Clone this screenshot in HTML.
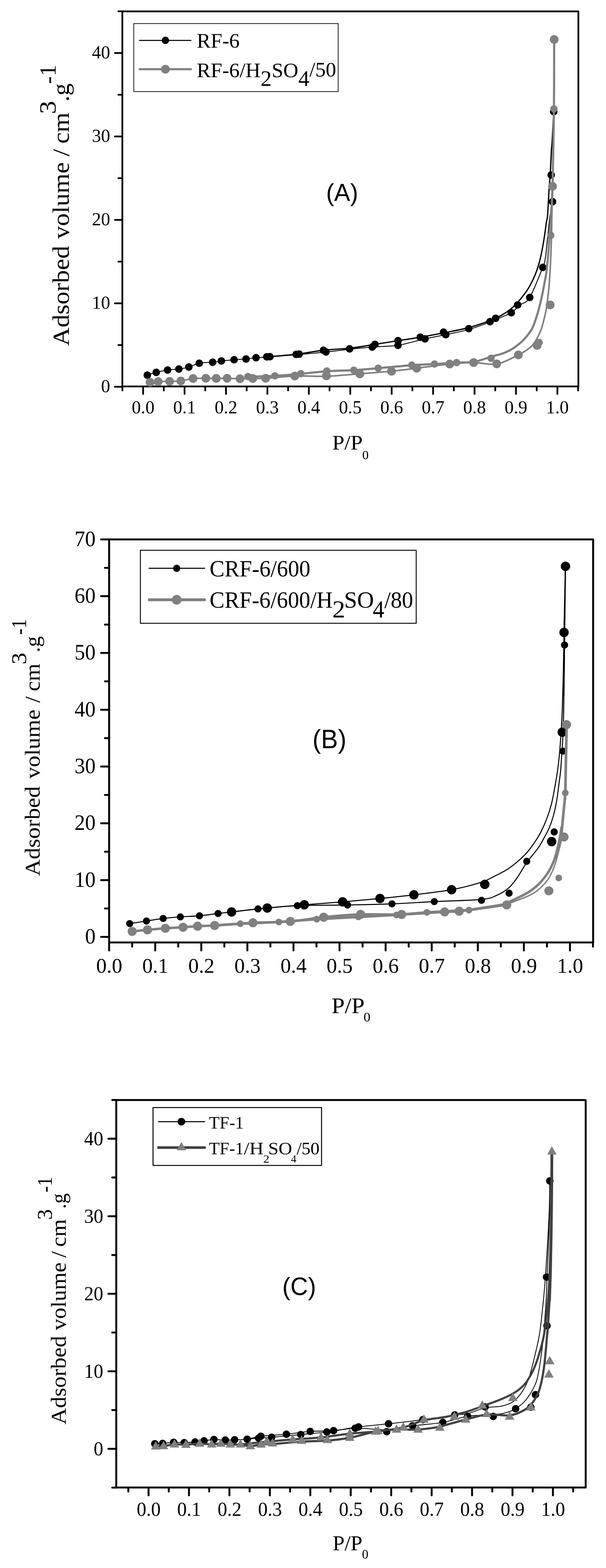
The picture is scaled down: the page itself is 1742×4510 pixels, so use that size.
<!DOCTYPE html>
<html lang="en"><head><meta charset="utf-8"><title>Adsorption isotherms</title>
<style>
html,body{margin:0;padding:0;background:#fff;}
body{width:1742px;height:4510px;overflow:hidden;}
svg{display:block;}
text{fill:#000;}
</style></head><body>
<svg width="1742" height="4510" viewBox="0 0 1742 4510">
<rect width="1742" height="4510" fill="#fff"/>
<g id="chartA">
<g stroke="#000" stroke-width="5" stroke-linecap="round" fill="none">
<path d="M411.4,1111.6 V1132.9"/>
<path d="M530.5,1111.6 V1132.9"/>
<path d="M649.6,1111.6 V1132.9"/>
<path d="M768.7,1111.6 V1132.9"/>
<path d="M887.8,1111.6 V1132.9"/>
<path d="M1006.9,1111.6 V1132.9"/>
<path d="M1125.9,1111.6 V1132.9"/>
<path d="M1245,1111.6 V1132.9"/>
<path d="M1364.1,1111.6 V1132.9"/>
<path d="M1483.2,1111.6 V1132.9"/>
<path d="M1602.3,1111.6 V1132.9"/>
<path d="M351.9,1111.6 V1122.9"/>
<path d="M470.9,1111.6 V1122.9"/>
<path d="M590,1111.6 V1122.9"/>
<path d="M709.1,1111.6 V1122.9"/>
<path d="M828.2,1111.6 V1122.9"/>
<path d="M947.3,1111.6 V1122.9"/>
<path d="M1066.4,1111.6 V1122.9"/>
<path d="M1185.5,1111.6 V1122.9"/>
<path d="M1304.6,1111.6 V1122.9"/>
<path d="M1423.7,1111.6 V1122.9"/>
<path d="M1542.8,1111.6 V1122.9"/>
<path d="M1661.8,1111.6 V1122.9"/>
<path d="M351.7,1112.4 H330.4"/>
<path d="M351.7,872.4 H330.4"/>
<path d="M351.7,632.4 H330.4"/>
<path d="M351.7,392.4 H330.4"/>
<path d="M351.7,152.4 H330.4"/>
<path d="M351.7,992.4 H340.4"/>
<path d="M351.7,752.4 H340.4"/>
<path d="M351.7,512.4 H340.4"/>
<path d="M351.7,272.4 H340.4"/>
<path d="M351.7,32.4 H340.4"/>
</g>
<rect x="351.7" y="32.7" width="1310.9" height="1078.9" fill="none" stroke="#000" stroke-width="5" stroke-linejoin="round"/>
<path d="M423.5,1079 C427.8,1077.7 439.5,1073.5 449.2,1071 C458.9,1068.5 470.9,1065.9 481.7,1064.3 C492.5,1062.7 504,1062.9 514.2,1061.4 C524.4,1060 533,1058.4 542.8,1055.6 C552.5,1052.8 561.3,1047 572.7,1044.7 C584.1,1042.4 600.7,1042.9 611.3,1041.8 C621.9,1040.7 626.1,1039.4 636.4,1038.2 C646.6,1037 661,1035.7 672.8,1034.7 C684.6,1033.8 696.7,1033.5 707.2,1032.5 C717.7,1031.5 724.5,1030 736,1029 C747.5,1028 755.2,1027.9 775.9,1026.3 C796.5,1024.7 833,1021.8 859.9,1019.5 C886.8,1017.2 912.8,1014.9 937,1012.4 C961.2,1009.9 982.8,1006.9 1005,1004.5 C1027.2,1002.1 1046.9,1000.1 1070.1,998.2 C1093.3,996.3 1118.8,997 1144.1,993.1 C1169.3,989.2 1198.7,979.8 1221.6,974.7 C1244.5,969.6 1260.4,967 1281.4,962.5 C1302.4,958 1326.3,953.6 1347.5,947.6 C1368.7,941.6 1393,932.2 1408.6,926.3 C1424.1,920.4 1430.6,916.8 1440.8,912.3 C1451,907.8 1460.3,905.4 1469.7,899.4 C1479.1,893.4 1488.2,883.3 1497,876 C1505.8,868.7 1512.3,873.4 1522.8,855.6 C1533.3,837.8 1552.8,787.4 1560.2,769.1 C1567.6,750.8 1565,756.9 1567,746 C1569,735.1 1570.5,717.5 1572,704 C1573.5,690.5 1574.5,679 1576,665 C1577.5,651 1579,634.1 1581,620 C1583,605.9 1586.8,608.4 1588.3,580.1 C1589.8,551.8 1589.4,493.2 1590,450 C1590.6,406.8 1591.4,342.5 1591.7,321" fill="none" stroke="#000" stroke-width="2.5" stroke-linejoin="round" stroke-linecap="round"/>
<path d="M766.9,1026.3 C781,1025.1 824,1022.4 851.2,1019.2 C878.4,1016 904.4,1010.2 930,1007.3 C955.6,1004.3 980.4,1004.3 1005,1001.5 C1029.6,998.7 1054.6,994.1 1077.8,990.5 C1101,986.9 1122.4,983.3 1144.1,979.9 C1165.8,976.5 1185.4,973.8 1208.1,969.9 C1230.8,966 1256.8,961.1 1280,956.5 C1303.2,951.9 1326.1,948.1 1347.5,942.4 C1368.9,936.7 1393,928.1 1408.6,922.3 C1424.1,916.5 1430.7,913.1 1440.8,907.4 C1450.9,901.7 1460.3,895.3 1469,888.1 C1477.7,880.9 1484.8,873.7 1493,864 C1501.2,854.3 1510.7,842.6 1518.4,830 C1526.1,817.4 1533.6,802.1 1539.3,788.1 C1545,774.1 1548.5,762 1552.4,746.3 C1556.3,730.6 1559.8,711.9 1562.8,694 C1565.8,676.1 1568.8,651.5 1570.7,639.2 C1572.6,626.9 1572.7,635.8 1574,620 C1575.3,604.2 1577.1,564.3 1578.4,544.3 C1579.7,524.3 1580.6,518.4 1581.7,500 C1582.8,481.6 1584.1,449.3 1585,433.8 C1585.9,418.3 1586.1,425.8 1587.2,407 C1588.3,388.2 1591,335.3 1591.7,321" fill="none" stroke="#000" stroke-width="3.7" stroke-linejoin="round" stroke-linecap="round"/>
<g fill="#000">
<circle cx="423.5" cy="1079" r="10.8"/>
<circle cx="449.2" cy="1071" r="10.8"/>
<circle cx="481.7" cy="1064.3" r="10.8"/>
<circle cx="514.2" cy="1061.4" r="10.8"/>
<circle cx="542.8" cy="1055.6" r="10.8"/>
<circle cx="572.7" cy="1044.7" r="10.8"/>
<circle cx="611.3" cy="1041.8" r="10.8"/>
<circle cx="636.4" cy="1038.2" r="10.8"/>
<circle cx="672.8" cy="1034.7" r="10.8"/>
<circle cx="707.2" cy="1032.5" r="10.8"/>
<circle cx="736" cy="1028.8" r="10.8"/>
<circle cx="766.9" cy="1026.3" r="10.8"/>
<circle cx="775.9" cy="1025.9" r="10.8"/>
<circle cx="851.2" cy="1019.2" r="10.8"/>
<circle cx="859.9" cy="1018.5" r="10.8"/>
<circle cx="930" cy="1007.3" r="10.8"/>
<circle cx="937" cy="1012.4" r="10.8"/>
<circle cx="1005" cy="1003.4" r="10.8"/>
<circle cx="1070.1" cy="998.2" r="10.8"/>
<circle cx="1077.8" cy="990.5" r="10.8"/>
<circle cx="1144.1" cy="979.9" r="10.8"/>
<circle cx="1144.1" cy="993.1" r="10.8"/>
<circle cx="1208.1" cy="969.9" r="10.8"/>
<circle cx="1221.6" cy="974.7" r="10.8"/>
<circle cx="1275" cy="955.4" r="10.8"/>
<circle cx="1281.4" cy="962.5" r="10.8"/>
<circle cx="1347.5" cy="945.2" r="10.8"/>
<circle cx="1408.6" cy="925.1" r="10.8"/>
<circle cx="1424.7" cy="915.5" r="10.8"/>
<circle cx="1469.7" cy="899.4" r="10.8"/>
<circle cx="1488" cy="877" r="10.8"/>
<circle cx="1522.8" cy="855.6" r="10.8"/>
<circle cx="1560.2" cy="769.1" r="10.8"/>
<circle cx="1588.3" cy="580.1" r="10.8"/>
<circle cx="1584.4" cy="503.4" r="10.8"/>
<circle cx="1591.7" cy="321" r="10.8"/>
</g>
<path d="M431.5,1099.7 C435.4,1099.4 445.4,1098.2 454.7,1097.7 C464,1097.2 476.7,1097.1 487.5,1096.8 C498.3,1096.5 508.5,1097.1 519.7,1095.8 C531,1094.5 543,1090 555,1088.7 C567,1087.4 580.6,1088.1 591.7,1088.1 C602.8,1088 611.4,1088.4 621.6,1088.4 C631.8,1088.4 641.4,1087.9 652.8,1088.1 C664.2,1088.3 677.5,1089.3 689.8,1089.4 C702.1,1089.5 714.4,1088.9 726.7,1088.7 C739,1088.5 743.6,1089.2 763.7,1088 C783.8,1086.8 818.2,1082.6 847.3,1081.6 C876.4,1080.6 907.1,1083.3 938.3,1082.2 C969.5,1081.1 1003.2,1077.5 1034.4,1075.1 C1065.6,1072.7 1097.9,1070.4 1125.4,1067.7 C1152.9,1065 1171.5,1062.4 1199.4,1059 C1227.3,1055.6 1265.7,1049.8 1292.7,1047.1 C1319.7,1044.4 1339.1,1042.9 1361.6,1042.9 C1384.1,1042.9 1406.5,1050.6 1427.9,1046.9 C1449.3,1043.2 1473.9,1028.6 1489.8,1020.8 C1505.7,1013 1514.7,1007.2 1523.3,1000 C1531.9,992.8 1536,986.3 1541.4,977.4 C1546.8,968.5 1552,957.1 1555.9,946.6 C1559.8,936.1 1562.3,924.7 1564.9,914.1 C1567.5,903.5 1569.5,894.5 1571.3,883.3 C1573.1,872.1 1574.6,857.6 1575.8,847.1 C1577,836.6 1577.4,835 1578.5,820 C1579.6,805 1581.3,778.2 1582.4,756.8 C1583.5,735.4 1584.3,713.3 1585,691.5 C1585.7,669.7 1585.8,651.9 1586.3,626 C1586.8,600.1 1588,550.9 1588.3,535.9" fill="none" stroke="#808080" stroke-width="4.6" stroke-linejoin="round" stroke-linecap="round"/>
<path d="M712.6,1083.6 C725.6,1083.2 765,1082.4 790.4,1081 C815.8,1079.6 839.8,1077.3 864.7,1075.1 C889.6,1072.9 914,1069.6 939.6,1067.8 C965.2,1066 993.8,1066 1018.4,1064.5 C1043,1063 1059.9,1061.4 1087.5,1059 C1115.1,1056.6 1157.1,1052.3 1184,1050.3 C1210.9,1048.3 1227.6,1048.3 1249,1047.1 C1270.4,1045.9 1293.8,1043.9 1312.6,1042.9 C1331.4,1041.9 1345,1043.8 1361.6,1041 C1378.1,1038.2 1398.8,1029.8 1411.9,1026 C1425,1022.2 1432.1,1020.9 1440.2,1018.3 C1448.3,1015.7 1454,1013.3 1460.3,1010.3 C1466.6,1007.2 1470.6,1005.5 1478.1,1000 C1485.6,994.5 1496.8,986.3 1505.2,977.4 C1513.6,968.5 1522.7,957.1 1528.7,946.6 C1534.7,936.1 1537.8,924.7 1541.4,914.1 C1545,903.5 1547.7,893.5 1550.4,883.3 C1553.1,873 1555.4,863.1 1557.7,852.6 C1560,842.1 1561.8,831.6 1564,820 C1566.2,808.4 1568.7,797.9 1570.7,783 C1572.7,768.1 1574.4,748.1 1575.9,730.7 C1577.4,713.3 1578.5,696.9 1579.8,678.4 C1581.1,659.9 1582.5,643.8 1583.9,620 C1585.3,596.2 1586.9,587 1588.3,535.9 C1589.7,484.8 1591.5,383.7 1592.3,313.3 C1593.1,242.9 1592.9,146.9 1593,113.6" fill="none" stroke="#808080" stroke-width="6.2" stroke-linejoin="round" stroke-linecap="round"/>
<g fill="#808080">
<circle cx="712.6" cy="1083" r="10.6"/>
<circle cx="790.2" cy="1081" r="10.6"/>
<circle cx="864.5" cy="1074.8" r="10.6"/>
<circle cx="939.4" cy="1067" r="10.6"/>
<circle cx="1017" cy="1064.8" r="10.6"/>
<circle cx="1087.2" cy="1059" r="10.6"/>
<circle cx="1183.7" cy="1050.2" r="10.6"/>
<circle cx="1249" cy="1047.1" r="10.6"/>
<circle cx="1312.6" cy="1042.9" r="10.6"/>
<circle cx="1411.5" cy="1030.6" r="10.6"/>
<circle cx="1550" cy="985.2" r="10.6"/>
<circle cx="1583.2" cy="677.1" r="10.6"/>
<circle cx="1592.3" cy="313.3" r="10.6"/>
</g>
<g fill="#808080">
<circle cx="431.5" cy="1099.7" r="12.6"/>
<circle cx="454.7" cy="1097.7" r="12.6"/>
<circle cx="487.5" cy="1096.8" r="12.6"/>
<circle cx="519.7" cy="1095.8" r="12.6"/>
<circle cx="555" cy="1088.7" r="12.6"/>
<circle cx="591.7" cy="1088.1" r="12.6"/>
<circle cx="621.6" cy="1088.4" r="12.6"/>
<circle cx="652.8" cy="1088.1" r="12.6"/>
<circle cx="689.8" cy="1089.4" r="12.6"/>
<circle cx="726.7" cy="1088.7" r="12.6"/>
<circle cx="763.7" cy="1088" r="12.6"/>
<circle cx="847.3" cy="1081.6" r="12.6"/>
<circle cx="938.3" cy="1081" r="12.6"/>
<circle cx="1034.4" cy="1075.4" r="12.6"/>
<circle cx="1125.4" cy="1067.9" r="12.6"/>
<circle cx="1198" cy="1059" r="12.6"/>
<circle cx="1292.7" cy="1047.1" r="12.6"/>
<circle cx="1361.6" cy="1042.9" r="12.6"/>
<circle cx="1427.9" cy="1046.6" r="12.6"/>
<circle cx="1490.2" cy="1020.8" r="12.6"/>
<circle cx="1543.9" cy="993.5" r="12.6"/>
<circle cx="1581.5" cy="877" r="12.6"/>
<circle cx="1588.3" cy="535.9" r="12.6"/>
<circle cx="1593" cy="113.6" r="12.6"/>
</g>
<text x="411.4" y="1188.6" font-family='"Liberation Serif", serif' font-size="52.3" text-anchor="middle" >0.0</text>
<text x="530.5" y="1188.6" font-family='"Liberation Serif", serif' font-size="52.3" text-anchor="middle" >0.1</text>
<text x="649.6" y="1188.6" font-family='"Liberation Serif", serif' font-size="52.3" text-anchor="middle" >0.2</text>
<text x="768.7" y="1188.6" font-family='"Liberation Serif", serif' font-size="52.3" text-anchor="middle" >0.3</text>
<text x="887.8" y="1188.6" font-family='"Liberation Serif", serif' font-size="52.3" text-anchor="middle" >0.4</text>
<text x="1006.9" y="1188.6" font-family='"Liberation Serif", serif' font-size="52.3" text-anchor="middle" >0.5</text>
<text x="1125.9" y="1188.6" font-family='"Liberation Serif", serif' font-size="52.3" text-anchor="middle" >0.6</text>
<text x="1245" y="1188.6" font-family='"Liberation Serif", serif' font-size="52.3" text-anchor="middle" >0.7</text>
<text x="1364.1" y="1188.6" font-family='"Liberation Serif", serif' font-size="52.3" text-anchor="middle" >0.8</text>
<text x="1483.2" y="1188.6" font-family='"Liberation Serif", serif' font-size="52.3" text-anchor="middle" >0.9</text>
<text x="1602.3" y="1188.6" font-family='"Liberation Serif", serif' font-size="52.3" text-anchor="middle" >1.0</text>
<text x="290.41" y="1128.3" font-family='"Liberation Serif", serif' font-size="52.3" textLength="26.15" lengthAdjust="spacingAndGlyphs">0</text>
<text x="264.26" y="888.3" font-family='"Liberation Serif", serif' font-size="52.3" textLength="52.30" lengthAdjust="spacingAndGlyphs">10</text>
<text x="264.26" y="648.3" font-family='"Liberation Serif", serif' font-size="52.3" textLength="52.30" lengthAdjust="spacingAndGlyphs">20</text>
<text x="264.26" y="408.3" font-family='"Liberation Serif", serif' font-size="52.3" textLength="52.30" lengthAdjust="spacingAndGlyphs">30</text>
<text x="264.26" y="168.3" font-family='"Liberation Serif", serif' font-size="52.3" textLength="52.30" lengthAdjust="spacingAndGlyphs">40</text>
<text font-family='"Liberation Serif", serif'><tspan x="955.11" y="1292.7" font-size="58.3" textLength="87.52" lengthAdjust="spacingAndGlyphs">P/P</tspan><tspan x="1041.21" y="1320.8" font-size="36" textLength="18.47" lengthAdjust="spacingAndGlyphs">0</tspan></text>
<text font-family='"Liberation Serif", serif' transform="translate(198,994.5) rotate(-90)"><tspan x="-0.74" y="0" font-size="68" textLength="288.22" lengthAdjust="spacingAndGlyphs">Adsorbed</tspan> <tspan x="307.50" y="0" font-size="68" textLength="220.54" lengthAdjust="spacingAndGlyphs">volume</tspan> <tspan x="544.80" y="0" font-size="68" textLength="21.13" lengthAdjust="spacingAndGlyphs">/</tspan> <tspan x="581.25" y="0" font-size="68" textLength="89.70" lengthAdjust="spacingAndGlyphs">cm</tspan><tspan x="666.26" y="-37.8" font-size="68" textLength="38.30" lengthAdjust="spacingAndGlyphs">3</tspan><tspan x="701.91" y="0" font-size="68" textLength="53.01" lengthAdjust="spacingAndGlyphs">.g</tspan><tspan x="753.34" y="-37.8" font-size="68" textLength="54.63" lengthAdjust="spacingAndGlyphs">-1</tspan></text>
<text x="937.48" y="578" font-family='"Liberation Sans", sans-serif' font-size="70" textLength="92.07" lengthAdjust="spacingAndGlyphs" >(A)</text>
<rect x="384.5" y="67.8" width="587.6" height="195.6" fill="#fff" stroke="#000" stroke-width="2"/>
<path d="M401,116.2 L549,116.2" fill="none" stroke="#000" stroke-width="3" stroke-linejoin="round" stroke-linecap="round"/>
<g fill="#000">
<circle cx="475.5" cy="116.2" r="10.6"/>
</g>
<path d="M401.5,199 L549,199" fill="none" stroke="#808080" stroke-width="6" stroke-linejoin="round" stroke-linecap="round"/>
<g fill="#808080">
<circle cx="475.5" cy="199" r="12.6"/>
</g>
<text x="565.5" y="137.4" font-family='"Liberation Serif", serif' font-size="60" text-anchor="start" >RF-6</text>
<text x="565.5" y="222.3" font-family='"Liberation Serif", serif' font-size="60">RF-6/H<tspan dy="24.5" font-size="64">2</tspan><tspan dy="-24.5">SO</tspan><tspan dy="24.5" font-size="64">4</tspan><tspan dy="-26.5">/50</tspan></text>
</g>
<g id="chartB">
<g stroke="#000" stroke-width="5.5" stroke-linecap="round" fill="none">
<path d="M313.7,2710.7 V2733.7"/>
<path d="M446.2,2710.7 V2733.7"/>
<path d="M578.6,2710.7 V2733.7"/>
<path d="M711.1,2710.7 V2733.7"/>
<path d="M843.6,2710.7 V2733.7"/>
<path d="M976,2710.7 V2733.7"/>
<path d="M1108.5,2710.7 V2733.7"/>
<path d="M1241,2710.7 V2733.7"/>
<path d="M1373.5,2710.7 V2733.7"/>
<path d="M1505.9,2710.7 V2733.7"/>
<path d="M1638.4,2710.7 V2733.7"/>
<path d="M379.9,2710.7 V2722.7"/>
<path d="M512.4,2710.7 V2722.7"/>
<path d="M644.9,2710.7 V2722.7"/>
<path d="M777.3,2710.7 V2722.7"/>
<path d="M909.8,2710.7 V2722.7"/>
<path d="M1042.3,2710.7 V2722.7"/>
<path d="M1174.8,2710.7 V2722.7"/>
<path d="M1307.2,2710.7 V2722.7"/>
<path d="M1439.7,2710.7 V2722.7"/>
<path d="M1572.2,2710.7 V2722.7"/>
<path d="M1704.6,2710.7 V2722.7"/>
<path d="M313.7,2694.7 H290.7"/>
<path d="M313.7,2531.4 H290.7"/>
<path d="M313.7,2368.1 H290.7"/>
<path d="M313.7,2204.8 H290.7"/>
<path d="M313.7,2041.5 H290.7"/>
<path d="M313.7,1878.1 H290.7"/>
<path d="M313.7,1714.8 H290.7"/>
<path d="M313.7,1551.5 H290.7"/>
<path d="M313.7,2613 H301.7"/>
<path d="M313.7,2449.7 H301.7"/>
<path d="M313.7,2286.4 H301.7"/>
<path d="M313.7,2123.1 H301.7"/>
<path d="M313.7,1959.8 H301.7"/>
<path d="M313.7,1796.5 H301.7"/>
<path d="M313.7,1633.2 H301.7"/>
</g>
<rect x="313.7" y="1551.4" width="1391.3" height="1159.3" fill="none" stroke="#000" stroke-width="5.5" stroke-linejoin="round"/>
<path d="M372.8,2656.5 C380.8,2655.3 405,2651.6 421,2649.1 C437,2646.6 452.8,2643.7 469,2641.7 C485.2,2639.7 501.1,2638.5 518.5,2637.2 C535.9,2635.9 555.4,2635.6 573.5,2634 C591.6,2632.4 611.5,2629.3 626.9,2627.5 C642.3,2625.7 646.6,2625.2 665.7,2623 C684.8,2620.8 710.1,2617.3 741.6,2614.3 C773.1,2611.3 811.9,2606.9 854.8,2605 C897.7,2603.1 953.8,2603.9 999.1,2603 C1044.4,2602.1 1085.3,2601.4 1126.8,2599.8 C1168.3,2598.2 1205.4,2595.3 1248.3,2593.2 C1291.2,2591.1 1354,2590.1 1384.2,2587 C1414.4,2583.9 1416.3,2580.1 1429.2,2574.7 C1442.1,2569.3 1452,2562.6 1461.4,2554.6 C1470.8,2546.6 1476.7,2538.7 1485.5,2526.4 C1494.3,2514.1 1503.9,2495.4 1514.1,2481 C1524.2,2466.6 1538.1,2451.9 1546.4,2440 C1554.7,2428.1 1558.5,2420.2 1564.1,2409.8 C1569.7,2399.4 1575.4,2389.8 1580.2,2377.7 C1585,2365.6 1589.6,2350.9 1593.1,2337.5 C1596.6,2324.1 1598.7,2312.1 1601.1,2297.3 C1603.5,2282.6 1605.8,2262.4 1607.5,2249 C1609.2,2235.6 1610.4,2230.3 1611.6,2216.9 C1612.8,2203.5 1613.7,2184.7 1614.8,2168.6 C1615.9,2152.5 1617.2,2136.5 1618,2120.4 C1618.8,2104.3 1619.2,2085.6 1619.6,2072.2 C1620,2058.8 1620.1,2060.4 1620.4,2040 C1620.7,2019.6 1621.1,1980.8 1621.5,1950 C1621.9,1919.2 1622.2,1908.8 1622.9,1855.3 C1623.6,1801.8 1625.1,1666.6 1625.5,1628.9" fill="none" stroke="#000" stroke-width="2.9" stroke-linejoin="round" stroke-linecap="round"/>
<path d="M665.7,2623 C682.8,2621.1 733.5,2615.1 768.3,2611.7 C803.1,2608.3 838.6,2605.3 874.7,2602.4 C910.8,2599.5 948.6,2597 984.9,2594 C1021.2,2591 1058.1,2587.7 1092.3,2584.3 C1126.5,2580.9 1155.5,2577.9 1189.8,2573.7 C1224.1,2569.5 1266.3,2564.9 1298.2,2559 C1330.1,2553.1 1360.5,2544.9 1381,2538.5 C1401.5,2532.1 1407.2,2527.5 1421.2,2520.4 C1435.2,2513.3 1450.3,2506.6 1465.2,2496 C1480.1,2485.4 1498,2469.8 1510.5,2456.8 C1523,2443.8 1532.4,2429.1 1540,2418 C1547.6,2406.9 1550.6,2401.2 1556,2390.5 C1561.4,2379.8 1567.4,2366.3 1572.2,2353.5 C1577,2340.7 1581.2,2328.1 1585,2313.4 C1588.8,2298.7 1591.8,2281.2 1594.7,2265.1 C1597.7,2249 1600.6,2231.6 1602.7,2216.9 C1604.8,2202.2 1606.2,2190.1 1607.5,2176.7 C1608.8,2163.3 1609.7,2151.3 1610.8,2136.5 C1611.9,2121.7 1613.1,2104.1 1614,2088 C1614.9,2071.9 1615.6,2063 1616.4,2040 C1617.2,2017 1618.2,1986.8 1619,1950 C1619.8,1913.2 1620.3,1872.6 1621.4,1819.1 C1622.5,1765.6 1624.8,1660.6 1625.5,1628.9" fill="none" stroke="#000" stroke-width="2.9" stroke-linejoin="round" stroke-linecap="round"/>
<path d="M1625.5,1628.9 L1621.6,1819.1 L1622.6,1855.3 L1621.6,1930 L1620.6,2000" fill="none" stroke="#000" stroke-width="3.6" stroke-linejoin="round" stroke-linecap="round"/>
<g fill="#000">
<circle cx="372.8" cy="2656.5" r="10.3"/>
<circle cx="421" cy="2649.1" r="10.3"/>
<circle cx="469" cy="2641.7" r="10.3"/>
<circle cx="518.5" cy="2637.2" r="10.3"/>
<circle cx="573.5" cy="2634" r="10.3"/>
<circle cx="626.9" cy="2627.5" r="10.3"/>
<circle cx="741.6" cy="2614.3" r="10.3"/>
<circle cx="854.8" cy="2605" r="10.3"/>
<circle cx="999.1" cy="2603" r="10.3"/>
<circle cx="1126.8" cy="2599.8" r="10.3"/>
<circle cx="1248.3" cy="2593.2" r="10.3"/>
<circle cx="1384.2" cy="2589.5" r="10.3"/>
<circle cx="1463.4" cy="2569" r="10.3"/>
<circle cx="1514.1" cy="2477.4" r="10.3"/>
<circle cx="1593.1" cy="2392.9" r="10.3"/>
<circle cx="1618.3" cy="2160.5" r="10.3"/>
<circle cx="1622.9" cy="1855.3" r="10.3"/>
</g>
<g fill="#000">
<circle cx="665.7" cy="2623" r="13.5"/>
<circle cx="768.3" cy="2611.7" r="13.5"/>
<circle cx="874.7" cy="2602.4" r="13.5"/>
<circle cx="984.9" cy="2594" r="13.5"/>
<circle cx="1092.3" cy="2584.3" r="13.5"/>
<circle cx="1189.8" cy="2573.7" r="13.5"/>
<circle cx="1298.2" cy="2559" r="13.5"/>
<circle cx="1393.5" cy="2543.7" r="13.5"/>
<circle cx="1585.8" cy="2420.6" r="13.5"/>
<circle cx="1616.3" cy="2105.9" r="13.5"/>
<circle cx="1621.4" cy="1819.1" r="13.5"/>
<circle cx="1625.5" cy="1628.9" r="13.5"/>
</g>
<path d="M617,2662 L690.8,2656.8 L801.7,2651.9 L910.4,2643.9 L1030.3,2637.4 L1139.6,2631.6 L1227,2624.1 L1348,2617.7 L1420,2607.5 L1445,2603.5" fill="none" stroke="#808080" stroke-width="7.4" stroke-linejoin="round" stroke-linecap="round"/>
<path d="M379.9,2679 C387.2,2678.2 408,2676 423.9,2674.5 C439.8,2673 458.3,2671.2 475.4,2670 C492.4,2668.8 510.8,2668.1 526.2,2667.1 C541.6,2666.1 552.9,2664.8 568,2663.9 C583.1,2663.1 590.5,2663.6 617,2662 C643.5,2660.4 690.9,2656.1 727.1,2654.2 C763.4,2652.2 800.6,2653 834.5,2650.3 C868.4,2647.6 896.7,2641.5 930.4,2638.1 C964.1,2634.7 999.3,2631.3 1036.7,2630 C1074.1,2628.7 1114.5,2631.5 1154.7,2630.3 C1194.9,2629.1 1250.6,2624.5 1278.1,2622.9 C1305.6,2621.3 1296.2,2623.7 1319.9,2620.9 C1343.6,2618.1 1398,2609.5 1420,2606 C1442,2602.5 1444.3,2602.2 1452,2600 C1459.7,2597.8 1458,2596.7 1466.1,2592.8 C1474.1,2588.9 1489.6,2582.4 1500.3,2576.7 C1511,2571 1521.1,2565.6 1530.5,2558.6 C1539.9,2551.6 1548.6,2543.6 1556.6,2534.5 C1564.6,2525.4 1572.7,2514.4 1578.7,2504.3 C1584.7,2494.2 1588.8,2484.9 1592.8,2474.2 C1596.8,2463.5 1600.1,2450.7 1602.8,2440 C1605.5,2429.3 1607.1,2420 1609,2410 C1610.9,2400 1613.2,2385 1614,2380" fill="none" stroke="#808080" stroke-width="7" stroke-linejoin="round" stroke-linecap="round"/>
<path d="M1440,2604 C1442.8,2603.6 1452,2602.9 1457,2601.5 C1462,2600.1 1461.3,2599.3 1470.2,2595.8 C1479.1,2592.3 1498.7,2585.9 1510.4,2580.7 C1522.1,2575.5 1531.5,2571 1540.5,2564.6 C1549.5,2558.2 1557.9,2549.9 1564.6,2542.5 C1571.3,2535.1 1575.7,2529.5 1580.7,2520.4 C1585.7,2511.3 1590.8,2499.6 1594.8,2488.2 C1598.8,2476.8 1602.4,2462.6 1604.8,2452.1 C1607.2,2441.6 1607.6,2434.5 1609,2425 C1610.4,2415.5 1612.3,2400 1613,2395" fill="none" stroke="#808080" stroke-width="4" stroke-linejoin="round" stroke-linecap="round"/>
<path d="M1598,2468 C1599.4,2463.3 1603.8,2450.2 1606.3,2440 C1608.8,2429.8 1611.3,2420.3 1613.2,2407 C1615.1,2393.7 1616.1,2374.5 1617.5,2360 C1618.9,2345.5 1620.3,2333.3 1621.5,2320 C1622.7,2306.7 1624.1,2300 1624.9,2280 C1625.7,2260 1625.8,2232.7 1626.5,2200 C1627.2,2167.3 1628.4,2103.1 1628.8,2083.7" fill="none" stroke="#808080" stroke-width="7.6" stroke-linejoin="round" stroke-linecap="round"/>
<g fill="#808080">
<circle cx="379.9" cy="2679" r="13.1"/>
<circle cx="423.9" cy="2674.5" r="13.1"/>
<circle cx="475.4" cy="2670" r="13.1"/>
<circle cx="526.2" cy="2667.1" r="13.1"/>
<circle cx="568" cy="2663.9" r="13.1"/>
<circle cx="617" cy="2662" r="13.1"/>
<circle cx="727.1" cy="2654.2" r="13.1"/>
<circle cx="834.5" cy="2650.3" r="13.1"/>
<circle cx="930.4" cy="2638.1" r="13.1"/>
<circle cx="1036.7" cy="2630" r="13.1"/>
<circle cx="1154.7" cy="2630.3" r="13.1"/>
<circle cx="1278.1" cy="2622.9" r="13.1"/>
<circle cx="1319.9" cy="2620.9" r="13.1"/>
<circle cx="1456.6" cy="2602.8" r="13.1"/>
<circle cx="1577.7" cy="2562.3" r="13.1"/>
<circle cx="1621.4" cy="2407.3" r="13.1"/>
<circle cx="1628.6" cy="2084.3" r="13.1"/>
</g>
<g fill="#808080">
<circle cx="690.8" cy="2656.8" r="9.7"/>
<circle cx="801.7" cy="2651.9" r="9.7"/>
<circle cx="910.4" cy="2643.9" r="9.7"/>
<circle cx="1030.3" cy="2637.4" r="9.7"/>
<circle cx="1139.6" cy="2631.6" r="9.7"/>
<circle cx="1227" cy="2624.1" r="9.7"/>
<circle cx="1348" cy="2617.7" r="9.7"/>
<circle cx="1606" cy="2525.2" r="9.7"/>
<circle cx="1624.9" cy="2280.6" r="9.7"/>
</g>
<text x="276.43" y="2798.3" font-family='"Liberation Serif", serif' font-size="62.3" textLength="75.15" lengthAdjust="spacingAndGlyphs">0.0</text>
<text x="408.90" y="2798.3" font-family='"Liberation Serif", serif' font-size="62.3" textLength="75.15" lengthAdjust="spacingAndGlyphs">0.1</text>
<text x="541.37" y="2798.3" font-family='"Liberation Serif", serif' font-size="62.3" textLength="75.15" lengthAdjust="spacingAndGlyphs">0.2</text>
<text x="673.84" y="2798.3" font-family='"Liberation Serif", serif' font-size="62.3" textLength="75.15" lengthAdjust="spacingAndGlyphs">0.3</text>
<text x="806.31" y="2798.3" font-family='"Liberation Serif", serif' font-size="62.3" textLength="75.15" lengthAdjust="spacingAndGlyphs">0.4</text>
<text x="938.78" y="2798.3" font-family='"Liberation Serif", serif' font-size="62.3" textLength="75.15" lengthAdjust="spacingAndGlyphs">0.5</text>
<text x="1071.25" y="2798.3" font-family='"Liberation Serif", serif' font-size="62.3" textLength="75.15" lengthAdjust="spacingAndGlyphs">0.6</text>
<text x="1203.72" y="2798.3" font-family='"Liberation Serif", serif' font-size="62.3" textLength="75.15" lengthAdjust="spacingAndGlyphs">0.7</text>
<text x="1336.19" y="2798.3" font-family='"Liberation Serif", serif' font-size="62.3" textLength="75.15" lengthAdjust="spacingAndGlyphs">0.8</text>
<text x="1468.66" y="2798.3" font-family='"Liberation Serif", serif' font-size="62.3" textLength="75.15" lengthAdjust="spacingAndGlyphs">0.9</text>
<text x="1601.13" y="2798.3" font-family='"Liberation Serif", serif' font-size="62.3" textLength="75.15" lengthAdjust="spacingAndGlyphs">1.0</text>
<text x="244.57" y="2713.9" font-family='"Liberation Serif", serif' font-size="62.8" textLength="30.30" lengthAdjust="spacingAndGlyphs">0</text>
<text x="214.27" y="2550.6" font-family='"Liberation Serif", serif' font-size="62.8" textLength="60.60" lengthAdjust="spacingAndGlyphs">10</text>
<text x="214.27" y="2387.3" font-family='"Liberation Serif", serif' font-size="62.8" textLength="60.60" lengthAdjust="spacingAndGlyphs">20</text>
<text x="214.27" y="2224" font-family='"Liberation Serif", serif' font-size="62.8" textLength="60.60" lengthAdjust="spacingAndGlyphs">30</text>
<text x="214.27" y="2060.7" font-family='"Liberation Serif", serif' font-size="62.8" textLength="60.60" lengthAdjust="spacingAndGlyphs">40</text>
<text x="214.27" y="1897.3" font-family='"Liberation Serif", serif' font-size="62.8" textLength="60.60" lengthAdjust="spacingAndGlyphs">50</text>
<text x="214.27" y="1734" font-family='"Liberation Serif", serif' font-size="62.8" textLength="60.60" lengthAdjust="spacingAndGlyphs">60</text>
<text x="214.27" y="1570.7" font-family='"Liberation Serif", serif' font-size="62.8" textLength="60.60" lengthAdjust="spacingAndGlyphs">70</text>
<text font-family='"Liberation Serif", serif'><tspan x="952.85" y="2913.6" font-size="63" textLength="95.21" lengthAdjust="spacingAndGlyphs">P/P</tspan><tspan x="1045.11" y="2937.9" font-size="38.5" textLength="19.88" lengthAdjust="spacingAndGlyphs">0</tspan></text>
<text font-family='"Liberation Serif", serif' transform="translate(114,2519) rotate(-90)"><tspan x="-0.66" y="0" font-size="61.5" textLength="258.24" lengthAdjust="spacingAndGlyphs">Adsorbed</tspan> <tspan x="279.40" y="0" font-size="61.5" textLength="198.89" lengthAdjust="spacingAndGlyphs">volume</tspan> <tspan x="497.70" y="0" font-size="61.5" textLength="18.22" lengthAdjust="spacingAndGlyphs">/</tspan> <tspan x="530.86" y="0" font-size="61.5" textLength="79.57" lengthAdjust="spacingAndGlyphs">cm</tspan><tspan x="607.99" y="-39" font-size="61.5" textLength="33.82" lengthAdjust="spacingAndGlyphs">3</tspan><tspan x="642.44" y="0" font-size="61.5" textLength="46.80" lengthAdjust="spacingAndGlyphs">.g</tspan><tspan x="692.95" y="-39" font-size="61.5" textLength="45.56" lengthAdjust="spacingAndGlyphs">-1</tspan></text>
<text x="898.33" y="2152" font-family='"Liberation Sans", sans-serif' font-size="76" textLength="97.48" lengthAdjust="spacingAndGlyphs" >(B)</text>
<rect x="403.6" y="1582.7" width="792.8" height="210" fill="#fff" stroke="#000" stroke-width="2.6"/>
<path d="M428.5,1634.6 L588.5,1634.6" fill="none" stroke="#000" stroke-width="3" stroke-linejoin="round" stroke-linecap="round"/>
<g fill="#000">
<circle cx="507.9" cy="1634.6" r="10.3"/>
</g>
<path d="M429,1725.2 L588,1725.2" fill="none" stroke="#808080" stroke-width="8.2" stroke-linejoin="round" stroke-linecap="round"/>
<g fill="#808080">
<circle cx="507.9" cy="1725.2" r="14"/>
</g>
<text x="602.52" y="1657.7" font-family='"Liberation Serif", serif' font-size="68" textLength="289.75" lengthAdjust="spacingAndGlyphs" >CRF-6/600</text>
<text font-family='"Liberation Serif", serif'><tspan x="602.53" y="1748.3" font-size="68" textLength="353.81" lengthAdjust="spacingAndGlyphs">CRF-6/600/H</tspan><tspan x="955.26" y="1776.3" font-size="69" textLength="37.12" lengthAdjust="spacingAndGlyphs">2</tspan><tspan x="989.17" y="1748.3" font-size="68" textLength="85.73" lengthAdjust="spacingAndGlyphs">SO</tspan><tspan x="1071.47" y="1776.3" font-size="69" textLength="33.23" lengthAdjust="spacingAndGlyphs">4</tspan><tspan x="1105.00" y="1747.6" font-size="68" textLength="82.75" lengthAdjust="spacingAndGlyphs">/80</tspan></text>
</g>
<g id="chartC">
<g stroke="#000" stroke-width="5.5" stroke-linecap="round" fill="none">
<path d="M427,4278.4 V4300.9"/>
<path d="M543.2,4278.4 V4300.9"/>
<path d="M659.5,4278.4 V4300.9"/>
<path d="M775.8,4278.4 V4300.9"/>
<path d="M892,4278.4 V4300.9"/>
<path d="M1008.2,4278.4 V4300.9"/>
<path d="M1124.5,4278.4 V4300.9"/>
<path d="M1240.8,4278.4 V4300.9"/>
<path d="M1357,4278.4 V4300.9"/>
<path d="M1473.2,4278.4 V4300.9"/>
<path d="M1589.5,4278.4 V4300.9"/>
<path d="M368.9,4278.4 V4289.9"/>
<path d="M485.1,4278.4 V4289.9"/>
<path d="M601.4,4278.4 V4289.9"/>
<path d="M717.6,4278.4 V4289.9"/>
<path d="M833.9,4278.4 V4289.9"/>
<path d="M950.1,4278.4 V4289.9"/>
<path d="M1066.4,4278.4 V4289.9"/>
<path d="M1182.6,4278.4 V4289.9"/>
<path d="M1298.9,4278.4 V4289.9"/>
<path d="M1415.1,4278.4 V4289.9"/>
<path d="M1531.4,4278.4 V4289.9"/>
<path d="M1647.6,4278.4 V4289.9"/>
<path d="M334.2,4167.3 H311.7"/>
<path d="M334.2,3944.3 H311.7"/>
<path d="M334.2,3721.3 H311.7"/>
<path d="M334.2,3498.3 H311.7"/>
<path d="M334.2,3275.3 H311.7"/>
<path d="M334.2,4278.8 H322.7"/>
<path d="M334.2,4055.8 H322.7"/>
<path d="M334.2,3832.8 H322.7"/>
<path d="M334.2,3609.8 H322.7"/>
<path d="M334.2,3386.8 H322.7"/>
<path d="M334.2,3163.8 H322.7"/>
</g>
<rect x="334.2" y="3164" width="1349.4" height="1114.4" fill="none" stroke="#000" stroke-width="5.5" stroke-linejoin="round"/>
<path d="M445,4152.6 C448.8,4152.5 458.5,4152.4 467.5,4151.7 C476.5,4151 488.8,4148.9 499.1,4148.5 C509.5,4148.1 519.3,4149.6 529.6,4149.4 C539.9,4149.2 551.3,4148.4 560.8,4147.5 C570.3,4146.6 577.6,4145.5 586.6,4144.3 C595.6,4143.1 604.7,4140.8 614.9,4140.4 C625.1,4140 637.8,4141.9 647.7,4142 C657.6,4142.1 664,4141.5 674.4,4141.1 C684.8,4140.7 697.8,4141.1 710.4,4139.4 C723,4137.7 731.1,4133.4 749.9,4131 C768.7,4128.6 799.6,4127.5 823.2,4125.2 C846.8,4122.9 869.1,4118.9 891.7,4117.2 C914.3,4115.5 935.8,4117.1 958.9,4114.9 C982,4112.7 1004.3,4107.5 1030.6,4104.2 C1056.9,4100.9 1086,4098.7 1116.8,4095.2 C1147.6,4091.7 1183.8,4087.5 1215.5,4083.3 C1247.2,4079.1 1285.7,4072.7 1307.2,4069.8 C1328.7,4066.9 1329.7,4069.4 1344.3,4066 C1358.9,4062.6 1378.5,4053.1 1394.6,4049.5 C1410.7,4045.9 1427.7,4047.5 1440.8,4044.7 C1453.9,4041.9 1463.6,4038.7 1473,4032.7 C1482.4,4026.7 1489.7,4018.6 1497.1,4008.5 C1504.5,3998.4 1511.8,3985.1 1517.2,3972.4 C1522.6,3959.7 1525.9,3944.3 1529.2,3932.2 C1532.5,3920.1 1533.6,3916.3 1537.3,3900 C1541,3883.7 1547.2,3860.6 1551.3,3834.2 C1555.4,3807.8 1559,3770.4 1561.9,3741.8 C1564.8,3713.2 1566.3,3693.4 1568.5,3662.6 C1570.7,3631.8 1573.3,3587.8 1575.1,3557 C1576.8,3526.2 1578.1,3504.4 1579,3477.7 C1579.9,3451 1580.2,3410.1 1580.4,3396.6" fill="none" stroke="#000" stroke-width="2.3" stroke-linejoin="round" stroke-linecap="round"/>
<path d="M710.4,4139.4 C715.9,4138.9 731.6,4137.4 743.4,4136.5 C755.2,4135.6 760.8,4135.6 781,4133.9 C801.2,4132.2 838.3,4128.7 864.7,4126.2 C891.1,4123.7 913.6,4121.8 939.6,4118.8 C965.6,4115.8 992.2,4109.1 1020.9,4108 C1049.6,4106.9 1084.1,4113.2 1111.6,4112 C1139.1,4110.8 1159,4104.4 1185.9,4101 C1212.8,4097.6 1246.4,4095.9 1272.8,4091.3 C1299.2,4086.8 1320.1,4077.4 1344.3,4073.7 C1368.5,4069.9 1400.5,4070.3 1417.9,4068.8 C1435.3,4067.3 1438.1,4067.6 1448.8,4064.8 C1459.5,4062 1471.5,4058.7 1482.2,4052 C1492.9,4045.3 1503.7,4036.5 1513.2,4024.6 C1522.7,4012.7 1533.3,3994.5 1539.3,3980.4 C1545.3,3966.3 1546.6,3953.6 1549.3,3940.2 C1552,3926.8 1553.3,3915.5 1555.4,3900 C1557.5,3884.5 1559.5,3873.8 1561.9,3847.4 C1564.3,3821 1568,3770.9 1569.8,3741.8 C1571.5,3712.7 1571.1,3703.8 1572.4,3673 C1573.7,3642.2 1576.5,3589.6 1577.7,3557 C1578.9,3524.4 1579.3,3504.4 1579.8,3477.7 C1580.2,3451 1580.3,3410.1 1580.4,3396.6" fill="none" stroke="#000" stroke-width="2.3" stroke-linejoin="round" stroke-linecap="round"/>
<g fill="#000">
<circle cx="445" cy="4152.6" r="10.7"/>
<circle cx="467.5" cy="4151.7" r="10.7"/>
<circle cx="499.1" cy="4148.5" r="10.7"/>
<circle cx="529.6" cy="4149.4" r="10.7"/>
<circle cx="560.8" cy="4147.5" r="10.7"/>
<circle cx="586.6" cy="4144.3" r="10.7"/>
<circle cx="614.9" cy="4140.4" r="10.7"/>
<circle cx="647.7" cy="4142" r="10.7"/>
<circle cx="674.4" cy="4141.1" r="10.7"/>
<circle cx="710.4" cy="4139.4" r="10.7"/>
<circle cx="743.4" cy="4136.5" r="10.7"/>
<circle cx="749.9" cy="4131" r="10.7"/>
<circle cx="781" cy="4133.9" r="10.7"/>
<circle cx="823.2" cy="4125.2" r="10.7"/>
<circle cx="864.7" cy="4126.2" r="10.7"/>
<circle cx="891.7" cy="4117.2" r="10.7"/>
<circle cx="939.6" cy="4118.8" r="10.7"/>
<circle cx="958.9" cy="4114.9" r="10.7"/>
<circle cx="1020.9" cy="4108" r="10.7"/>
<circle cx="1030.6" cy="4104.2" r="10.7"/>
<circle cx="1116.8" cy="4095.2" r="10.7"/>
<circle cx="1111.6" cy="4118" r="10.7"/>
<circle cx="1185.9" cy="4101" r="10.7"/>
<circle cx="1215.5" cy="4083.3" r="10.7"/>
<circle cx="1272.8" cy="4091.3" r="10.7"/>
<circle cx="1307.2" cy="4069.8" r="10.7"/>
<circle cx="1344.3" cy="4073.7" r="10.7"/>
<circle cx="1394.6" cy="4046.7" r="10.7"/>
<circle cx="1417.9" cy="4074" r="10.7"/>
<circle cx="1482.2" cy="4052" r="10.7"/>
<circle cx="1526" cy="4047.5" r="10.7"/>
<circle cx="1539.3" cy="4011.4" r="10.7"/>
<circle cx="1572.4" cy="3813.1" r="10.7"/>
<circle cx="1571.1" cy="3673.1" r="10.7"/>
<circle cx="1580.4" cy="3396.6" r="10.7"/>
</g>
<path d="M447.6,4160.2 C451.4,4160.1 461.1,4160.3 470.1,4159.3 C479.1,4158.3 490.9,4155 501.6,4154.4 C512.3,4153.8 522.3,4155.8 534.4,4155.4 C546.5,4155 561.7,4152.4 574,4152.2 C586.3,4152 598.3,4154.4 608.4,4154.4 C618.5,4154.4 625.8,4152.2 634.8,4152.2 C643.8,4152.2 652.7,4154 662.1,4154.4 C671.5,4154.8 674,4155.7 691.4,4154.4 C708.8,4153.1 741.6,4149.1 766.6,4146.7 C791.6,4144.3 815.5,4142.2 841.5,4140.2 C867.5,4138.1 895.2,4137.2 922.6,4134.4 C950,4131.6 979.5,4126.3 1005.6,4123.5 C1031.7,4120.7 1053.8,4120.6 1079.4,4117.6 C1105,4114.6 1136,4110.8 1159.2,4105.4 C1182.4,4100 1198.6,4089.9 1218.7,4085 C1238.8,4080.1 1259.7,4079.7 1280,4075.7 C1300.3,4071.7 1322.5,4066 1340.3,4060.8 C1358,4055.6 1369.8,4050.7 1386.5,4044.7 C1403.2,4038.7 1425,4031.3 1440.8,4024.6 C1456.5,4017.9 1469.6,4011.9 1481,4004.5 C1492.4,3997.1 1501.1,3989.8 1509.1,3980.4 C1517.1,3971 1523.8,3958.2 1529.2,3948.2 C1534.6,3938.1 1537.9,3929 1541.3,3920.1 C1544.7,3911.2 1546.7,3904.2 1549.5,3895 C1552.3,3885.8 1555.5,3875.1 1558,3865 C1560.5,3854.9 1562.1,3850.3 1564.5,3834.2 C1566.9,3818.1 1570.2,3790.6 1572.4,3768.2 C1574.7,3745.8 1576.4,3728 1578,3700 C1579.6,3672 1580.9,3633.3 1582,3600 C1583.1,3566.7 1583.8,3546.6 1584.5,3500 C1585.2,3453.4 1586.1,3350.4 1586.4,3320.5" fill="none" stroke="#404040" stroke-width="6" stroke-linejoin="round" stroke-linecap="round"/>
<path d="M691.4,4154.4 C696.1,4155.2 710,4159.4 719.9,4159.5 C729.8,4159.6 739.9,4155.7 750.5,4154.7 C761.1,4153.7 764.1,4154.9 783.6,4153.5 C803.1,4152.1 841,4148.2 867.3,4146.5 C893.6,4144.8 918.2,4145.4 941.2,4143.5 C964.2,4141.6 981.3,4140 1005.6,4135.4 C1029.9,4130.8 1064.4,4119.9 1086.8,4116 C1109.2,4112.1 1120.8,4112.5 1139.9,4111.8 C1159.1,4111.1 1181,4113.1 1201.7,4111.8 C1222.5,4110.5 1251.4,4106.1 1264.4,4104 C1277.5,4101.9 1267.6,4102.5 1280,4099 C1292.4,4095.5 1318.9,4087.9 1338.7,4082.9 C1358.5,4077.9 1378,4070.8 1399,4068.8 C1420,4066.8 1447.2,4072.9 1464.9,4070.9 C1482.6,4068.9 1494.4,4062.5 1505.1,4056.8 C1515.8,4051.1 1521.8,4046.1 1529.2,4036.7 C1536.6,4027.3 1544.3,4013.2 1549.3,4000.5 C1554.3,3987.8 1556.7,3973.7 1559.4,3960.3 C1562.1,3946.9 1564.1,3930.2 1565.4,3920.1 C1566.7,3910 1566.7,3907.7 1567.4,3900 C1568.1,3892.3 1568.3,3891.4 1569.8,3873.8 C1571.3,3856.2 1574.4,3825.4 1576.4,3794.6 C1578.4,3763.8 1580.4,3728.6 1581.7,3689 C1583,3649.4 1583.5,3618.4 1584.3,3557 C1585.1,3495.6 1586.1,3359.9 1586.4,3320.5" fill="none" stroke="#404040" stroke-width="6.2" stroke-linejoin="round" stroke-linecap="round"/>
<path d="M1586.4,3320.5 C1586.3,3342.1 1586,3410.1 1585.6,3450 C1585.2,3489.9 1584.8,3525 1584.2,3560 C1583.6,3595 1583,3630 1582.2,3660 C1581.4,3690 1580,3726.7 1579.5,3740" fill="none" stroke="#404040" stroke-width="8" stroke-linejoin="round" stroke-linecap="round"/>
<g fill="#808080">
<path d="M447.6,4145.2 L461.2,4169.2 L434,4169.2 Z"/>
<path d="M470.1,4144.3 L483.8,4168.3 L456.5,4168.3 Z"/>
<path d="M501.6,4139.4 L515.2,4163.4 L488,4163.4 Z"/>
<path d="M534.4,4140.4 L548,4164.4 L520.8,4164.4 Z"/>
<path d="M574,4137.2 L587.6,4161.2 L560.4,4161.2 Z"/>
<path d="M608.4,4139.4 L622,4163.4 L594.8,4163.4 Z"/>
<path d="M634.8,4137.2 L648.4,4161.2 L621.1,4161.2 Z"/>
<path d="M662.1,4139.4 L675.8,4163.4 L648.5,4163.4 Z"/>
<path d="M691.4,4139.4 L705,4163.4 L677.8,4163.4 Z"/>
<path d="M719.9,4144.5 L733.5,4168.5 L706.2,4168.5 Z"/>
<path d="M750.5,4139.7 L764.1,4163.7 L736.9,4163.7 Z"/>
<path d="M766.6,4131.7 L780.2,4155.7 L753,4155.7 Z"/>
<path d="M783.6,4136.5 L797.2,4160.5 L770,4160.5 Z"/>
<path d="M841.5,4125.2 L855.1,4149.2 L827.9,4149.2 Z"/>
<path d="M867.3,4129.1 L880.9,4153.1 L853.6,4153.1 Z"/>
<path d="M922.6,4119.4 L936.2,4143.4 L909,4143.4 Z"/>
<path d="M941.2,4126.8 L954.9,4150.8 L927.6,4150.8 Z"/>
<path d="M1005.6,4108.5 L1019.2,4132.5 L992,4132.5 Z"/>
<path d="M1005.6,4120.4 L1019.2,4144.4 L992,4144.4 Z"/>
<path d="M1079.4,4102.6 L1093.1,4126.6 L1065.8,4126.6 Z"/>
<path d="M1086.8,4101 L1100.5,4125 L1073.1,4125 Z"/>
<path d="M1139.9,4096.8 L1153.6,4120.8 L1126.2,4120.8 Z"/>
<path d="M1159.2,4090.4 L1172.9,4114.4 L1145.5,4114.4 Z"/>
<path d="M1201.7,4096.8 L1215.4,4120.8 L1188,4120.8 Z"/>
<path d="M1218.7,4068.2 L1232.4,4092.2 L1205,4092.2 Z"/>
<path d="M1264.4,4091.3 L1278.1,4115.3 L1250.8,4115.3 Z"/>
<path d="M1306.2,4060.1 L1319.9,4084.1 L1292.5,4084.1 Z"/>
<path d="M1338.7,4068 L1352.4,4092 L1325,4092 Z"/>
<path d="M1386.5,4027.4 L1400.2,4051.4 L1372.8,4051.4 Z"/>
<path d="M1399,4052 L1412.7,4076 L1385.3,4076 Z"/>
<path d="M1464.9,4059.6 L1478.6,4083.6 L1451.2,4083.6 Z"/>
<path d="M1474.2,4005.7 L1487.9,4029.7 L1460.5,4029.7 Z"/>
<path d="M1526,4032.7 L1539.7,4056.7 L1512.3,4056.7 Z"/>
<path d="M1577.9,3938.2 L1591.6,3962.2 L1564.2,3962.2 Z"/>
<path d="M1580.3,3900 L1594,3924 L1566.6,3924 Z"/>
<path d="M1586.4,3296.8 L1600.1,3320.8 L1572.8,3320.8 Z"/>
</g>
<text x="392.95" y="4360.3" font-family='"Liberation Serif", serif' font-size="57" textLength="68.90" lengthAdjust="spacingAndGlyphs">0.0</text>
<text x="509.20" y="4360.3" font-family='"Liberation Serif", serif' font-size="57" textLength="68.90" lengthAdjust="spacingAndGlyphs">0.1</text>
<text x="625.45" y="4360.3" font-family='"Liberation Serif", serif' font-size="57" textLength="68.90" lengthAdjust="spacingAndGlyphs">0.2</text>
<text x="741.70" y="4360.3" font-family='"Liberation Serif", serif' font-size="57" textLength="68.90" lengthAdjust="spacingAndGlyphs">0.3</text>
<text x="857.95" y="4360.3" font-family='"Liberation Serif", serif' font-size="57" textLength="68.90" lengthAdjust="spacingAndGlyphs">0.4</text>
<text x="974.20" y="4360.3" font-family='"Liberation Serif", serif' font-size="57" textLength="68.90" lengthAdjust="spacingAndGlyphs">0.5</text>
<text x="1090.45" y="4360.3" font-family='"Liberation Serif", serif' font-size="57" textLength="68.90" lengthAdjust="spacingAndGlyphs">0.6</text>
<text x="1206.70" y="4360.3" font-family='"Liberation Serif", serif' font-size="57" textLength="68.90" lengthAdjust="spacingAndGlyphs">0.7</text>
<text x="1322.95" y="4360.3" font-family='"Liberation Serif", serif' font-size="57" textLength="68.90" lengthAdjust="spacingAndGlyphs">0.8</text>
<text x="1439.20" y="4360.3" font-family='"Liberation Serif", serif' font-size="57" textLength="68.90" lengthAdjust="spacingAndGlyphs">0.9</text>
<text x="1555.45" y="4360.3" font-family='"Liberation Serif", serif' font-size="57" textLength="68.90" lengthAdjust="spacingAndGlyphs">1.0</text>
<text x="269.21" y="4185.8" font-family='"Liberation Serif", serif' font-size="57" textLength="27.56" lengthAdjust="spacingAndGlyphs">0</text>
<text x="241.65" y="3962.8" font-family='"Liberation Serif", serif' font-size="57" textLength="55.12" lengthAdjust="spacingAndGlyphs">10</text>
<text x="241.65" y="3739.8" font-family='"Liberation Serif", serif' font-size="57" textLength="55.12" lengthAdjust="spacingAndGlyphs">20</text>
<text x="241.65" y="3516.8" font-family='"Liberation Serif", serif' font-size="57" textLength="55.12" lengthAdjust="spacingAndGlyphs">30</text>
<text x="241.65" y="3293.8" font-family='"Liberation Serif", serif' font-size="57" textLength="55.12" lengthAdjust="spacingAndGlyphs">40</text>
<text font-family='"Liberation Serif", serif'><tspan x="956.25" y="4458.8" font-size="61.5" textLength="85.52" lengthAdjust="spacingAndGlyphs">P/P</tspan><tspan x="1040.42" y="4483.2" font-size="38" textLength="18.35" lengthAdjust="spacingAndGlyphs">0</tspan></text>
<text font-family='"Liberation Serif", serif' transform="translate(188.5,4096.6) rotate(-90)"><tspan x="-0.66" y="0" font-size="61" textLength="254.72" lengthAdjust="spacingAndGlyphs">Adsorbed</tspan> <tspan x="270.70" y="0" font-size="61" textLength="194.95" lengthAdjust="spacingAndGlyphs">volume</tspan> <tspan x="479.30" y="0" font-size="61" textLength="18.22" lengthAdjust="spacingAndGlyphs">/</tspan> <tspan x="510.35" y="0" font-size="61" textLength="79.78" lengthAdjust="spacingAndGlyphs">cm</tspan><tspan x="587.86" y="-39.1" font-size="61" textLength="30.91" lengthAdjust="spacingAndGlyphs">3</tspan><tspan x="619.63" y="0" font-size="61" textLength="44.66" lengthAdjust="spacingAndGlyphs">.g</tspan><tspan x="666.77" y="-39.1" font-size="61" textLength="45.11" lengthAdjust="spacingAndGlyphs">-1</tspan></text>
<text x="811.53" y="3724.6" font-family='"Liberation Sans", sans-serif' font-size="72" textLength="96.98" lengthAdjust="spacingAndGlyphs" >(C)</text>
<rect x="439.9" y="3185.7" width="484.4" height="166.4" fill="#fff" stroke="#000" stroke-width="2.8"/>
<path d="M455.5,3226.2 L588,3226.2" fill="none" stroke="#000" stroke-width="3" stroke-linejoin="round" stroke-linecap="round"/>
<g fill="#000">
<circle cx="521.5" cy="3226.2" r="11"/>
</g>
<path d="M455.5,3300.7 L588.2,3300.7" fill="none" stroke="#404040" stroke-width="7.6" stroke-linejoin="round" stroke-linecap="round"/>
<g fill="#808080">
<path d="M521.5,3284.4 L535.1,3308.4 L507.9,3308.4 Z"/>
</g>
<text x="600.83" y="3245.8" font-family='"Liberation Serif", serif' font-size="50.8" textLength="99.98" lengthAdjust="spacingAndGlyphs" >TF-1</text>
<text font-family='"Liberation Serif", serif'><tspan x="600.83" y="3320.2" font-size="50.8" textLength="99.98" lengthAdjust="spacingAndGlyphs">TF-1</tspan><tspan x="700.90" y="3320.2" font-size="50.8" textLength="15.72" lengthAdjust="spacingAndGlyphs">/</tspan><tspan x="716.89" y="3320.2" font-size="50.8" textLength="41.10" lengthAdjust="spacingAndGlyphs">H</tspan><tspan x="756.71" y="3344" font-size="31" textLength="17.63" lengthAdjust="spacingAndGlyphs">2</tspan><tspan x="770.86" y="3320" font-size="50.8" textLength="68.87" lengthAdjust="spacingAndGlyphs">SO</tspan><tspan x="836.48" y="3344" font-size="31" textLength="15.38" lengthAdjust="spacingAndGlyphs">4</tspan><tspan x="852.60" y="3320.2" font-size="50.8" textLength="14.72" lengthAdjust="spacingAndGlyphs">/</tspan><tspan x="866.41" y="3320.2" font-size="50.8" textLength="52.04" lengthAdjust="spacingAndGlyphs">50</tspan></text>
</g>
</svg>
</body></html>
